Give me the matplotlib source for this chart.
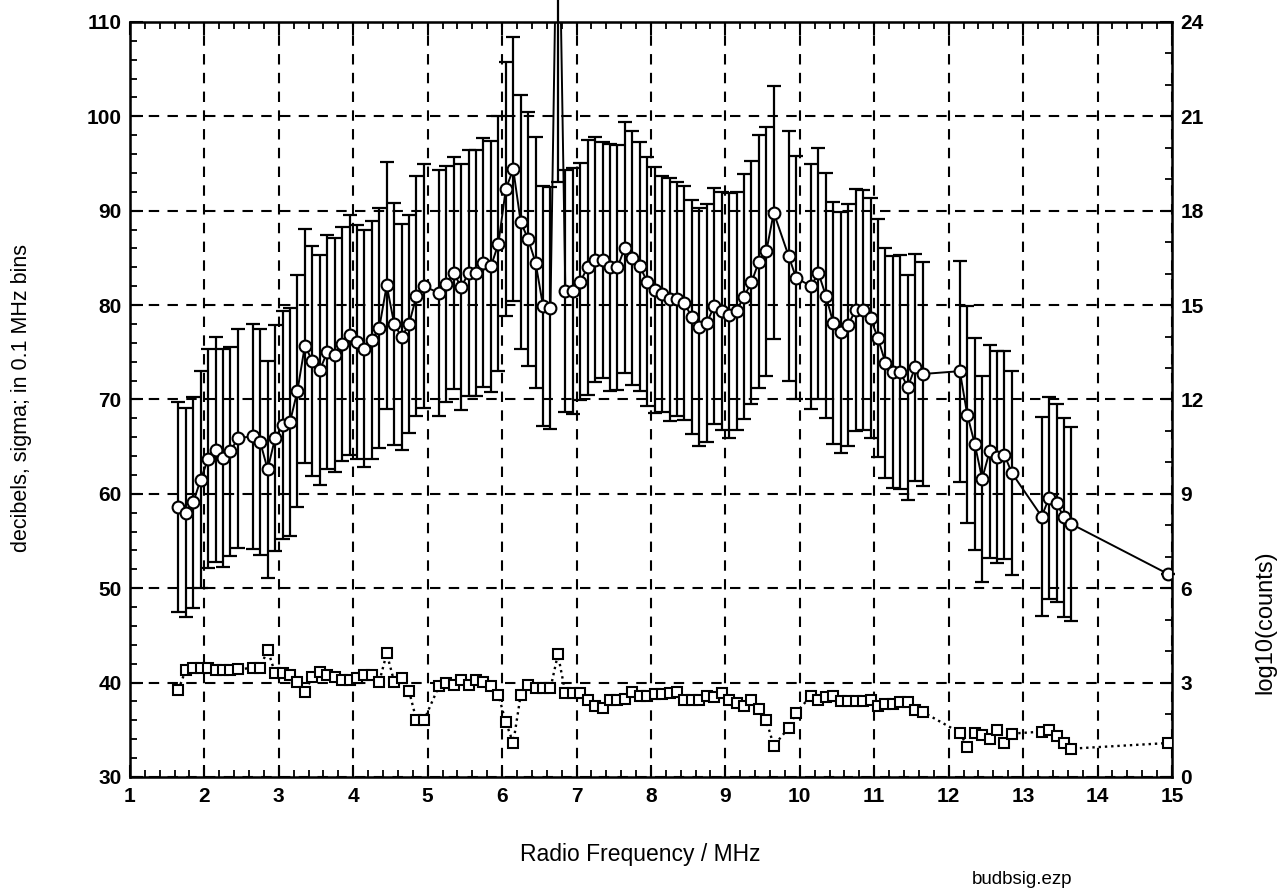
import matplotlib
matplotlib.use("Agg")
import matplotlib.pyplot as plt
from matplotlib.ticker import MultipleLocator

# 0.1 MHz bin centres that carry data (empty bins are simply absent)
FREQ = [1.65, 1.75, 1.85, 1.95, 2.05, 2.15, 2.25, 2.35, 2.45, 2.65,
        2.75, 2.85, 2.95, 3.05, 3.15, 3.25, 3.35, 3.45, 3.55, 3.65,
        3.75, 3.85, 3.95, 4.05, 4.15, 4.25, 4.35, 4.45, 4.55, 4.65,
        4.75, 4.85, 4.95, 5.15, 5.25, 5.35, 5.45, 5.55, 5.65, 5.75,
        5.85, 5.95, 6.05, 6.15, 6.25, 6.35, 6.45, 6.55, 6.65, 6.75,
        6.85, 6.95, 7.05, 7.15, 7.25, 7.35, 7.45, 7.55, 7.65, 7.75,
        7.85, 7.95, 8.05, 8.15, 8.25, 8.35, 8.45, 8.55, 8.65, 8.75,
        8.85, 8.95, 9.05, 9.15, 9.25, 9.35, 9.45, 9.55, 9.65, 9.85,
        9.95, 10.15, 10.25, 10.35, 10.45, 10.55, 10.65, 10.75, 10.85, 10.95,
        11.05, 11.15, 11.25, 11.35, 11.45, 11.55, 11.65, 12.15, 12.25, 12.35,
        12.45, 12.55, 12.65, 12.75, 12.85, 13.25, 13.35, 13.45, 13.55, 13.65,
        14.95]

# mean level in decibels (left axis)
MEAN_DB = [58.6, 58.0, 59.1, 61.5, 63.7, 64.7, 63.8, 64.5, 65.9, 66.1,
           65.5, 62.6, 65.9, 67.3, 67.6, 70.9, 75.7, 74.1, 73.1, 75.0,
           74.7, 75.9, 76.8, 76.1, 75.4, 76.3, 77.6, 82.1, 78.0, 76.6,
           78.0, 81.0, 82.0, 81.3, 82.2, 83.4, 81.9, 83.4, 83.4, 84.5,
           84.1, 86.5, 92.3, 94.4, 88.8, 87.0, 84.5, 79.9, 79.7, 130.0,
           81.5, 81.5, 82.5, 84.0, 84.8, 84.8, 84.0, 84.0, 86.1, 85.0,
           84.1, 82.5, 81.6, 81.2, 80.6, 80.6, 80.2, 78.7, 77.7, 78.1,
           79.9, 79.4, 78.9, 79.4, 80.9, 82.4, 84.6, 85.7, 89.8, 85.2,
           82.9, 82.0, 83.4, 81.0, 78.1, 77.1, 77.9, 79.5, 79.5, 78.6,
           76.5, 73.9, 72.9, 72.9, 71.3, 73.4, 72.7, 73.0, 68.4, 65.3,
           61.6, 64.5, 63.9, 64.1, 62.2, 57.6, 59.6, 59.0, 57.5, 56.8,
           51.5]

# sigma in decibels (error bar half length)
SIGMA_DB = [11.1, 11.1, 11.2, 11.5, 11.6, 11.9, 11.5, 11.1, 11.6, 11.9,
            12.0, 11.5, 12.0, 12.1, 12.1, 12.3, 12.4, 12.2, 12.2, 12.4,
            12.4, 12.4, 12.7, 12.4, 12.6, 12.6, 12.7, 13.1, 12.8, 12.0,
            11.6, 12.7, 12.9, 13.0, 12.5, 12.3, 13.0, 13.0, 13.0, 13.2,
            13.3, 13.5, 13.5, 14.0, 13.5, 13.5, 13.3, 12.7, 12.8, 37.0,
            12.8, 13.0, 12.6, 13.5, 13.0, 12.5, 13.1, 13.0, 13.3, 13.5,
            13.2, 13.2, 13.0, 12.5, 12.9, 12.4, 12.4, 12.4, 12.6, 12.6,
            12.5, 12.6, 13.0, 12.6, 13.0, 12.9, 13.4, 13.2, 13.4, 13.2,
            12.9, 13.0, 13.3, 13.0, 12.8, 12.8, 12.8, 12.8, 12.7, 12.7,
            12.6, 12.2, 12.3, 12.4, 11.9, 12.0, 11.9, 11.7, 11.5, 11.2,
            10.9, 11.3, 11.2, 11.0, 10.8, 10.5, 10.7, 10.5, 10.5, 10.3,
            0.0]

# log10(counts) per bin (right axis)
LOG_COUNTS = [2.76, 3.41, 3.45, 3.48, 3.48, 3.41, 3.41, 3.41, 3.42, 3.47,
              3.47, 4.05, 3.30, 3.30, 3.24, 3.03, 2.70, 3.18, 3.33, 3.24,
              3.18, 3.09, 3.09, 3.15, 3.24, 3.24, 3.03, 3.93, 3.03, 3.15,
              2.73, 1.80, 1.80, 2.88, 3.00, 2.93, 3.09, 2.93, 3.09, 3.03,
              2.88, 2.61, 1.74, 1.08, 2.61, 2.93, 2.82, 2.82, 2.82, 3.90,
              2.67, 2.67, 2.67, 2.46, 2.25, 2.19, 2.46, 2.46, 2.49, 2.70,
              2.58, 2.58, 2.64, 2.64, 2.67, 2.70, 2.46, 2.46, 2.46, 2.58,
              2.55, 2.67, 2.46, 2.34, 2.25, 2.46, 2.16, 1.80, 0.99, 1.56,
              2.04, 2.58, 2.46, 2.55, 2.58, 2.40, 2.40, 2.40, 2.40, 2.46,
              2.25, 2.31, 2.31, 2.37, 2.37, 2.13, 2.07, 1.41, 0.96, 1.41,
              1.35, 1.20, 1.50, 1.08, 1.38, 1.44, 1.50, 1.29, 1.08, 0.90,
              1.08]

X_TICKS = list(range(1, 16))
LEFT_TICKS = list(range(30, 111, 10))
RIGHT_TICKS = list(range(0, 25, 3))

plt.rcParams["font.family"] = ["Liberation Sans", "DejaVu Sans"]

fig = plt.figure(figsize=(12.79, 8.94), dpi=100)
ax = fig.add_axes([0.1016, 0.1309, 0.8147, 0.8445])

# error bars (left unclipped so the 6.75 MHz outlier runs off the top)
eb = ax.errorbar(FREQ, MEAN_DB, yerr=SIGMA_DB, fmt="none", ecolor="black",
                 elinewidth=1.6, capsize=5, capthick=1.6, zorder=3)
for art in list(eb.lines[1]) + list(eb.lines[2]):
    art.set_clip_on(False)

ax.plot(FREQ, MEAN_DB, "-", color="black", lw=1.4, marker="o", ms=8.5,
        mfc="white", mec="black", mew=1.5, zorder=4)

ax.set_xlim(1, 15)
ax.set_ylim(30, 110)
ax.set_xticks(X_TICKS)
ax.set_yticks(LEFT_TICKS)
ax.xaxis.set_minor_locator(MultipleLocator(0.2))
ax.yaxis.set_minor_locator(MultipleLocator(2))
ax.tick_params(which="both", direction="in", top=True, labelsize=15)
ax.tick_params(which="major", length=9, width=1.5)
ax.tick_params(which="minor", length=5, width=1.3)
ax.tick_params(axis="x", pad=7)
ax.tick_params(axis="y", pad=6)
ax.grid(True, which="major", color="black", linestyle=(0, (5, 4)), lw=1.5)
for sp in ax.spines.values():
    sp.set_linewidth(1.8)
for lab in ax.get_xticklabels() + ax.get_yticklabels():
    lab.set_fontweight("bold")

ax2 = ax.twinx()
ax2.plot(FREQ, LOG_COUNTS, ls=":", color="black", lw=1.7, marker="s", ms=7.5,
         mfc="white", mec="black", mew=1.5, zorder=4)
ax2.set_ylim(0, 24)
ax2.set_yticks(RIGHT_TICKS)
ax2.yaxis.set_minor_locator(MultipleLocator(1))
ax2.tick_params(which="both", direction="in", labelsize=15, pad=6)
ax2.tick_params(which="major", length=9, width=1.5)
ax2.tick_params(which="minor", length=5, width=1.3)
for lab in ax2.get_yticklabels():
    lab.set_fontweight("bold")

fig.text(22 / 1279, 1 - 398 / 894, "decibels, sigma; in 0.1 MHz bins",
         rotation=90, ha="center", va="center", fontsize=15.5)
fig.text(1265 / 1279, 1 - 622 / 894, "log10(counts)",
         rotation=90, ha="center", va="center", fontsize=17)
fig.text(640 / 1279, 1 - 855 / 894, "Radio Frequency / MHz",
         ha="center", va="center", fontsize=16.5)
fig.text(1022 / 1279, 1 - 880 / 894, "budbsig.ezp",
         ha="center", va="center", fontsize=13.5)

fig.savefig("out.png", dpi=100, facecolor="white")
